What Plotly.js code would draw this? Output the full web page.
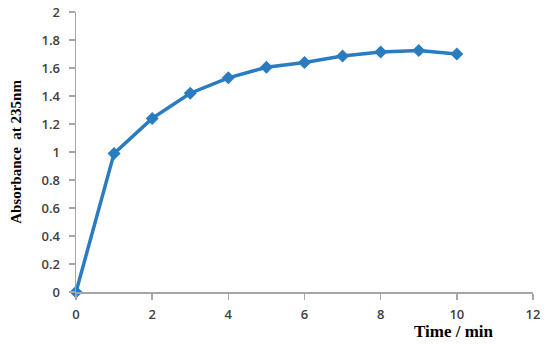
<!DOCTYPE html>
<html>
<head>
<meta charset="utf-8">
<script src="https://cdn.plot.ly/plotly-3.0.1.min.js"></script>
<style>html,body{margin:0;padding:0;background:#fff;}#chart{width:550px;height:344px;}</style>
</head>
<body>
<div id="chart"></div>
<script>
const timeMin = [0, 1, 2, 3, 4, 5, 6, 7, 8, 9, 10];
const absorbance = [0, 0.99, 1.24, 1.42, 1.53, 1.605, 1.64, 1.685, 1.715, 1.725, 1.70];
const xTicks = [0, 2, 4, 6, 8, 10, 12];
const yTicks = [0, 0.2, 0.4, 0.6, 0.8, 1, 1.2, 1.4, 1.6, 1.8, 2];

const trace = {
  x: timeMin,
  y: absorbance,
  type: 'scatter',
  mode: 'lines+markers',
  line: {color: '#2a7cc0', width: 3.5},
  marker: {symbol: 'diamond', size: 10, color: '#2a7cc0'},
  showlegend: false,
  cliponaxis: false
};

const tickFont = {family: 'Open Sans, Liberation Sans, sans-serif', size: 13, color: '#404040', weight: 600};
const layout = {
  width: 550, height: 344,
  margin: {l: 76, r: 17, t: 12, b: 52},
  paper_bgcolor: '#fff', plot_bgcolor: '#fff',
  xaxis: {
    range: [0, 12], tickvals: xTicks, ticktext: xTicks.map(String),
    showgrid: false, zeroline: false, showline: true, linecolor: '#a6a6a6', linewidth: 1.5,
    ticks: 'outside', ticklen: 6, tickcolor: '#a6a6a6', tickwidth: 1.5,
    tickfont: tickFont, ticklabelstandoff: 4
  },
  yaxis: {
    range: [0, 2], tickvals: yTicks, ticktext: yTicks.map(String),
    showgrid: false, zeroline: false, showline: true, linecolor: '#a6a6a6', linewidth: 1.5,
    ticks: 'outside', ticklen: 6, tickcolor: '#a6a6a6', tickwidth: 1.5,
    tickfont: tickFont, ticklabelstandoff: 6,
    title: {text: 'Absorbance  at 235nm', font: {family: 'Liberation Serif, Times New Roman, serif', size: 15, color: '#000', weight: 'bold'}, standoff: 16}
  },
  annotations: [{
    text: '<b>Time / min</b>', xref: 'paper', yref: 'paper', x: 0.828, y: 0, yshift: -39,
    xanchor: 'center', yanchor: 'middle', showarrow: false,
    font: {family: 'Liberation Serif, Times New Roman, serif', size: 17, color: '#000'}
  }]
};

Plotly.newPlot('chart', [trace], layout, {displayModeBar: false, staticPlot: true});
</script>
</body>
</html>
